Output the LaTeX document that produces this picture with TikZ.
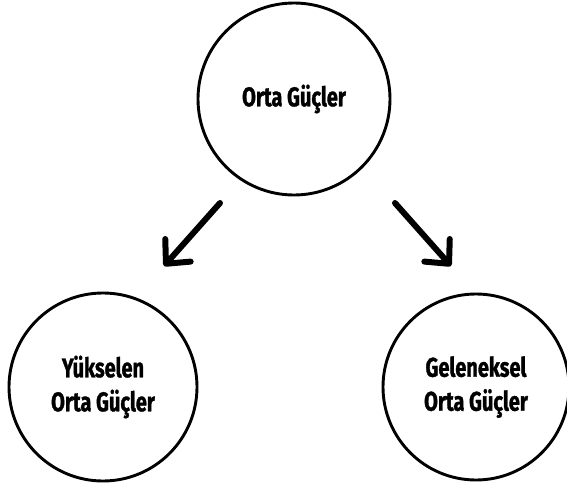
\documentclass[tikz,border=0pt]{standalone}
\usepackage{fontspec}
\setmainfont{Fira Sans}[FakeStretch=0.74, BoldFeatures={FakeBold=1.2}]
\usetikzlibrary{arrows.meta}
\tikzset{
  ring/.style={draw=black, line width=2.9pt, circle, inner sep=0pt, align=center,
    font=\fontsize{27}{34}\selectfont\bfseries},
  bigarrow/.style={line width=6pt, line cap=round, black,
    -{Straight Barb[length=18pt,width=34pt,round]}}
}
\begin{document}
\begin{tikzpicture}[x=1pt,y=-1pt]
\useasboundingbox (0,0) rectangle (567,487);
\node[ring, minimum size=192pt] (top) at (294,99) {Orta Güçler};
\node[ring, minimum size=188pt] (left) at (103,387) {Yükselen\\Orta Güçler};
\node[ring, minimum size=186pt] (right) at (476,387) {Geleneksel\\Orta Güçler};
\coordinate (ls) at (220,203);
\coordinate (le) at (164,266);
\coordinate (rs) at (395,203);
\coordinate (re) at (451,266);
\draw[bigarrow] (ls) -- (le);
\draw[bigarrow] (rs) -- (re);
\end{tikzpicture}
\end{document}
